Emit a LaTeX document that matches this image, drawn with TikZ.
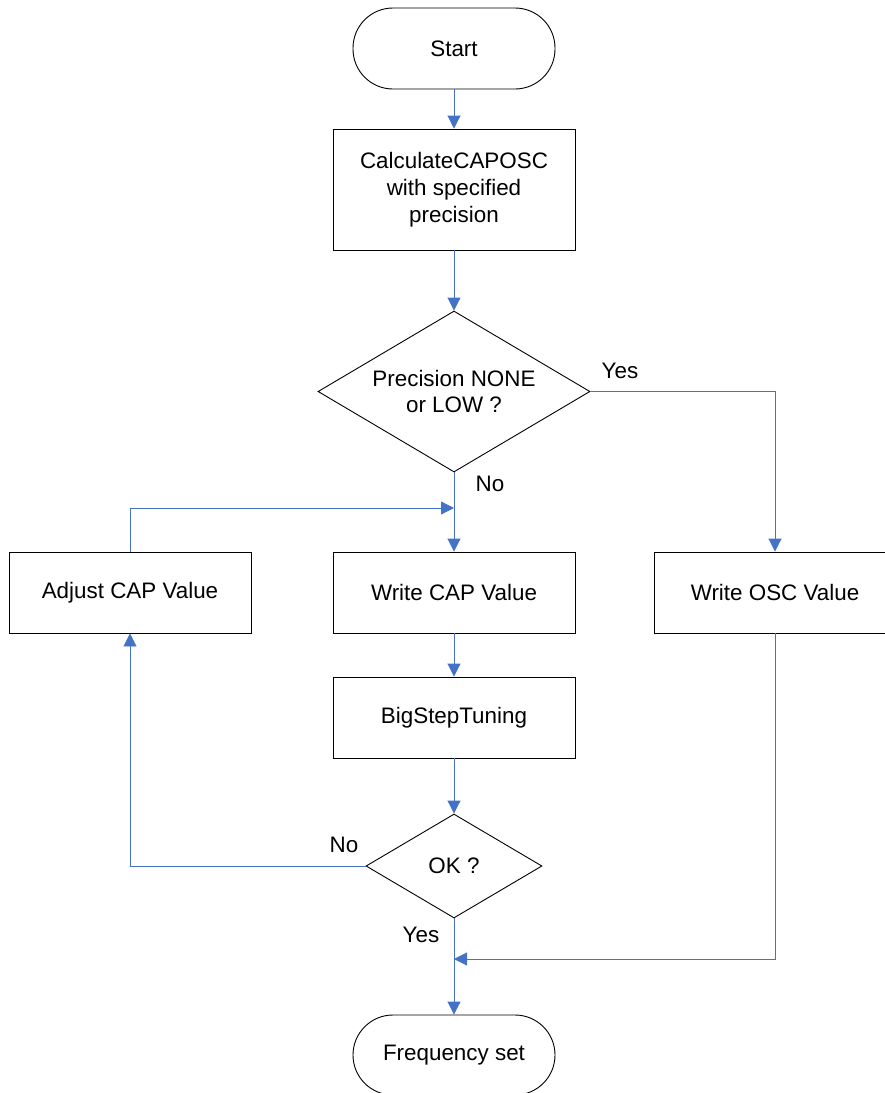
\documentclass[tikz,border=0pt]{standalone}
\usepackage{fontspec}
\setmainfont{Liberation Sans}
\usetikzlibrary{shapes.geometric,arrows.meta}
\definecolor{flowblue}{RGB}{68,114,196}
\begin{document}
\begin{tikzpicture}[x=1pt,y=-1pt,
  every node/.style={font=\fontsize{22.4}{27}\selectfont},
  procbox/.style={draw=black,line width=0.9pt,rectangle,minimum width=242pt,minimum height=81pt,align=center,inner sep=0pt},
  termbox/.style={draw=black,line width=0.9pt,rectangle,rounded corners=40pt,minimum width=202pt,minimum height=81pt,inner sep=0pt},
  decbox/.style={draw=black,line width=0.9pt,diamond,inner sep=0pt,align=center},
  flow/.style={draw=flowblue,line width=0.9pt,-{Triangle[length=13pt,width=13pt]}},
  lbl/.style={inner sep=0pt}]
\useasboundingbox (0,0) rectangle (885,1093);
\node[termbox] (start) at (454,48.5) {Start};
\node[procbox,minimum height=121pt] (calc) at (454,189.5) {CalculateCAPOSC\\with specified\\precision};
\node[decbox,minimum width=272pt,minimum height=161pt,
  label={[align=center,inner sep=0pt,font=\fontsize{22.4}{26}\selectfont]center:Precision NONE\\or LOW ?}] (dec1) at (454,391.5) {};
\node[procbox] (adj) at (130,592.5) {Adjust CAP Value};
\node[procbox] (wcap) at (454,592.5) {Write CAP Value};
\node[procbox] (wosc) at (775,592.5) {Write OSC Value};
\node[procbox] (big) at (454,717.5) {BigStepTuning};
\node[decbox,minimum width=176pt,minimum height=104pt] (ok) at (454,866) {OK ?};
\node[termbox,minimum height=80pt] (freq) at (454,1055) {Frequency set};
\coordinate (j1) at (454,508);
\coordinate (j2) at (454,959);
\node[lbl] (yes1) at (620,371) {Yes};
\node[lbl] (no1) at (490,484) {No};
\node[lbl] (no2) at (344,845) {No};
\node[lbl] (yes2) at (421,935) {Yes};
\draw[flow] (start.south) -- (calc.north);
\draw[flow] (calc.south) -- (dec1.north);
\draw[flow] (dec1.south) -- (wcap.north);
\draw[flow] (dec1.east) -| (wosc.north);
\draw[flow] (wcap.south) -- (big.north);
\draw[flow] (big.south) -- (ok.north);
\draw[flow] (ok.west) -| (adj.south);
\draw[flow] (adj.north) |- (j1);
\draw[flow] (ok.south) -- (freq.north);
\draw[flow] (wosc.south) |- (j2);
\end{tikzpicture}
\end{document}
